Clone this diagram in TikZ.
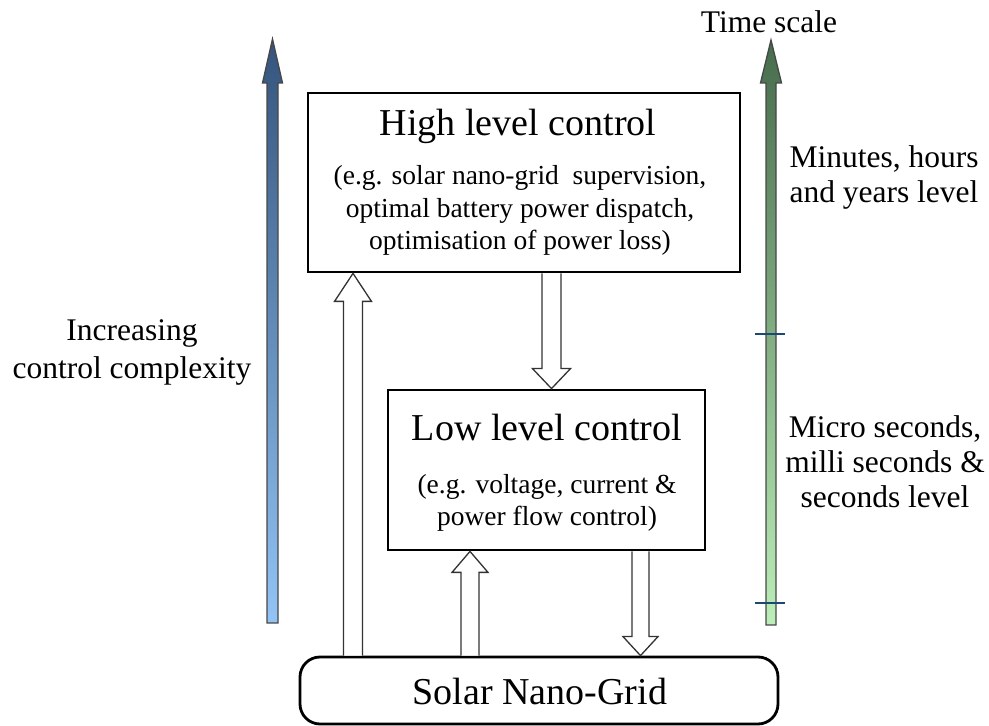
\documentclass[tikz,border=0pt]{standalone}
\usepackage{fontspec}
\setmainfont{Liberation Serif}
\usetikzlibrary{calc}
\definecolor{blueTop}{RGB}{52,84,124}
\definecolor{blueBot}{RGB}{146,196,245}
\definecolor{greenTop}{RGB}{70,108,76}
\definecolor{greenBot}{RGB}{188,238,184}
\definecolor{tickblue}{RGB}{28,72,118}

% hollow block arrow: x position, tail anchor, tip anchor,
% shaft half-width, head half-width, head length
\newcommand\hollowarrow[6]{%
  \draw[hollow] let \p1=(#2), \p2=(#3), \n1={#6*sign(\y2-\y1)} in
    ({#1-#4},\y1) -- ({#1-#4},{\y2-\n1}) -- ({#1-#5},{\y2-\n1}) -- (#1,\y2)
    -- ({#1+#5},{\y2-\n1}) -- ({#1+#4},{\y2-\n1}) -- ({#1+#4},\y1);}

\begin{document}
\begin{tikzpicture}[x=1pt,y=1pt,
  box/.style={draw, line width=2.8pt, inner sep=0pt},
  hollow/.style={draw=black!80, line width=1.3pt, fill=white, line join=miter},
  shadearrow/.style={draw=black!72, line width=1.3pt, line join=miter},
  big/.style={font=\fontsize{38}{40}\selectfont, inner sep=0pt},
  mid/.style={font=\fontsize{31.5}{35}\selectfont, align=center, inner sep=0pt},
  small/.style={font=\fontsize{27.5}{32.5}\selectfont, align=center, inner sep=0pt},
  tickmark/.style={draw=tickblue, line width=2.8pt}]
\useasboundingbox (0,0) rectangle (989,726);

% blocks
\node[box, minimum width=432pt, minimum height=179pt] (hi) at (524,543.5) {};
\node[box, minimum width=317pt, minimum height=160pt] (lo) at (546.5,256) {};
\node[box, rounded corners=20pt, minimum width=478pt, minimum height=67pt] (grid) at (539,35.5) {};

% block texts
\node[big] (hititle) at (518,600) {High level control};
\node[small] (hidesc) at (520,515.5) {(e.g. solar nano-grid\ \ supervision,\\optimal battery power dispatch,\\optimisation of power loss)};
\node[big] (lotitle) at (547,298) {Low level control};
\node[small] (lodesc) at (547,223) {(e.g. voltage, current \&\\power flow control)};
\node[big] (gridtext) at (540,34) {Solar Nano-Grid};

% hollow arrows between blocks
\hollowarrow{353}{grid.north}{hi.south}{9.5}{18.5}{28}
\hollowarrow{551.5}{hi.south}{lo.north}{9.5}{19}{20}
\hollowarrow{470}{grid.north}{lo.south}{9}{18}{21}
\hollowarrow{640.5}{lo.south}{grid.north}{8.5}{17.5}{19}

% complexity axis
\path[shadearrow, top color=blueTop, bottom color=blueBot]
  (267,103) -- (267,643) -- (262.5,643) -- (272.5,687) -- (282.5,643)
  -- (278,643) -- (278,103) -- cycle;
\node[mid, font=\fontsize{31.5}{38}\selectfont] (complexity) at (132,374) {Increasing\\control complexity};

% time scale axis
\path[shadearrow, top color=greenTop, bottom color=greenBot]
  (766,101) -- (766,643) -- (760.5,643) -- (771,686) -- (781.5,643)
  -- (776,643) -- (776,101) -- cycle;
\coordinate (t1l) at (755,392);
\coordinate (t1r) at (785,392);
\coordinate (t2l) at (755,123);
\coordinate (t2r) at (785,123);
\draw[tickmark] (t1l) -- (t1r);
\draw[tickmark] (t2l) -- (t2r);
\node[mid] (timescale) at (769,704) {Time scale};
\node[mid] (slow) at (884,548.5) {Minutes, hours\\and years level};
\node[mid] (fast) at (885,264) {Micro seconds,\\milli seconds \&\\seconds level};
\end{tikzpicture}
\end{document}
